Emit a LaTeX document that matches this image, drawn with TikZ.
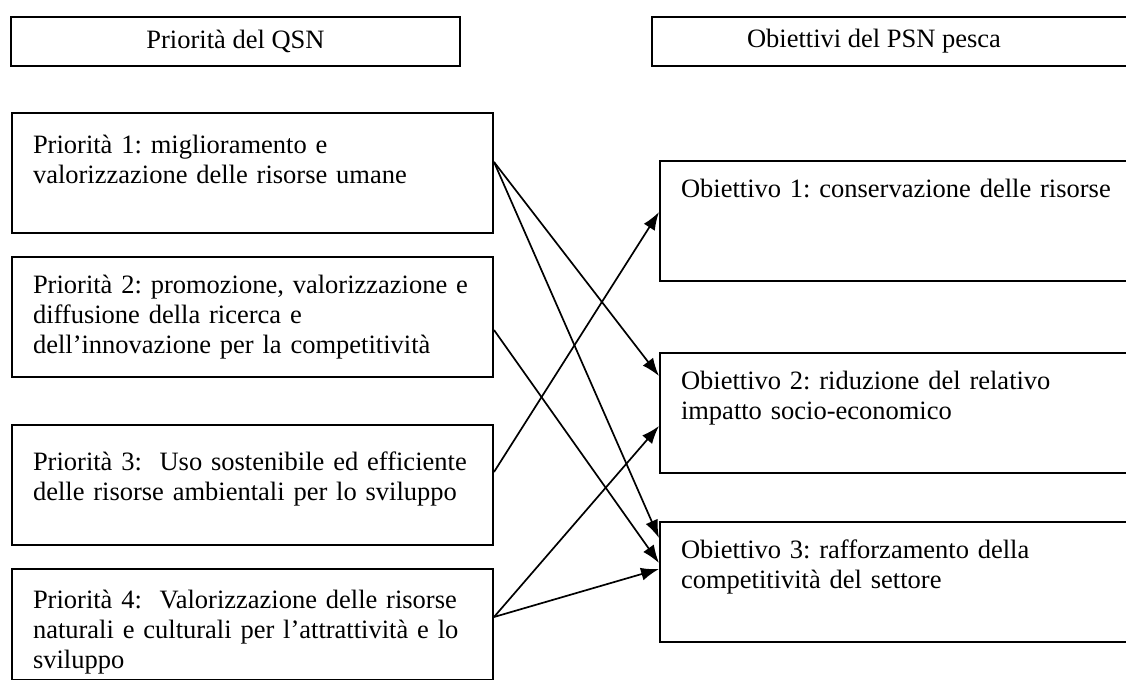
\documentclass[tikz,border=0pt]{standalone}
\usepackage{fontspec}
\setmainfont{Liberation Serif}
\frenchspacing
\usetikzlibrary{arrows.meta}
\tikzset{>={Latex[length=9pt,width=6.5pt]}}
\tikzstyle{headbox}=[draw,line width=1pt,anchor=north west,minimum height=24.5pt,inner sep=0pt]
\tikzstyle{textbox}=[draw,line width=1pt,anchor=north west,align=left,text width=219.5pt,inner xsep=10.5pt,inner ysep=0pt,text height=18pt,text depth=42pt]
\tikzstyle{link}=[->,line width=0.85pt]

\begin{document}
\begin{tikzpicture}[x=0.5pt,y=-0.5pt,font=\fontsize{13.25}{15}\selectfont]
  \useasboundingbox (0,0) rectangle (1126,680);
  \clip (0,0) rectangle (1126,680);

  % titles
  \node[headbox,minimum width=224.5pt] (qsn) at (10,16) {Priorità del QSN};
  \node[headbox,minimum width=244.5pt] (psn) at (651,16) {\hspace*{-22.5pt}Obiettivi del PSN pesca};

  % priorities
  \node[textbox,text height=20pt,text depth=40pt] (p1) at (11,112) {Priorità 1: miglioramento e\\valorizzazione delle risorse umane};
  \node[textbox] (p2) at (11,256) {Priorità 2: promozione, valorizzazione e\\diffusione della ricerca e\\dell’innovazione per la competitività};
  \node[textbox,text height=22.5pt,text depth=37.5pt] (p3) at (11,424) {Priorità 3:\ \ Uso sostenibile ed efficiente\\delle risorse ambientali per lo sviluppo};
  \node[textbox,text height=19.5pt,text depth=36pt] (p4) at (11,568) {Priorità 4:\ \ Valorizzazione delle risorse\\naturali e culturali per l’attrattività e lo\\sviluppo};

  % objectives
  \node[textbox] (o1) at (659,160) {Obiettivo 1: conservazione delle risorse};
  \node[textbox] (o2) at (659,352) {Obiettivo 2: riduzione del relativo\\impatto socio-economico};
  \node[textbox] (o3) at (659,521) {Obiettivo 3: rafforzamento della\\competitività del settore};

  \draw[link] ([yshift=5.5pt]p1.east) -- ([yshift=18.5pt]o2.west);
  \draw[link] ([yshift=5.5pt]p1.east) -- ([yshift=22pt]o3.west);
  \draw[link] ([yshift=-6.5pt]p2.east) -- ([yshift=9.5pt]o3.west);
  \draw[link] ([yshift=6.5pt]p3.east) -- ([yshift=4.5pt]o1.west);
  \draw[link] ([yshift=3.75pt]p4.east) -- ([yshift=-6.5pt]o2.west);
  \draw[link] ([yshift=3.75pt]p4.east) -- ([yshift=6.5pt]o3.west);
\end{tikzpicture}
\end{document}
